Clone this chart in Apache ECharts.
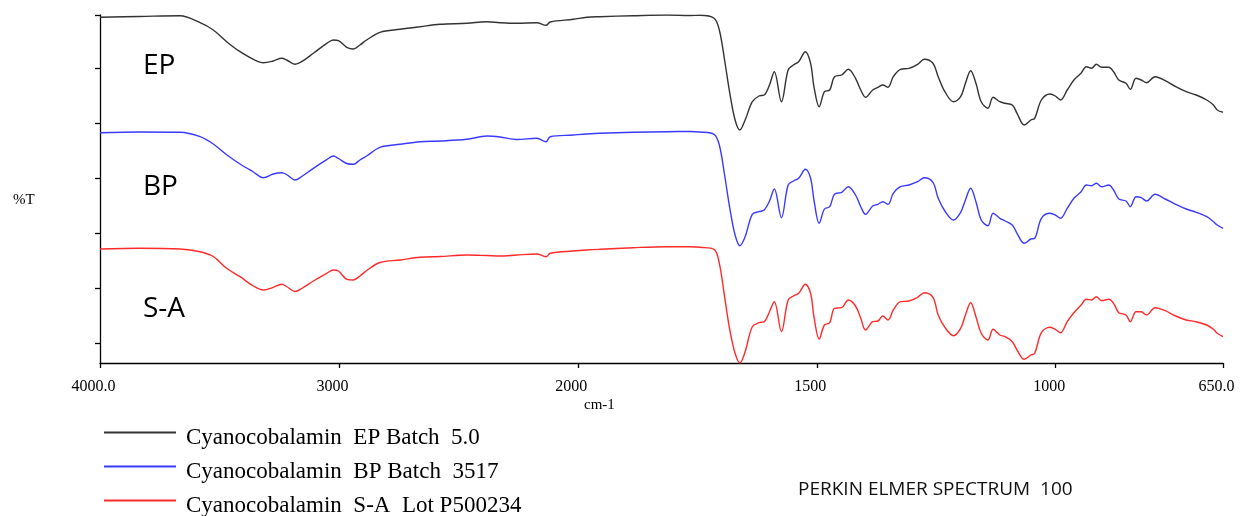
<!DOCTYPE html>
<html>
<head>
<meta charset="utf-8">
<script src="https://cdn.jsdelivr.net/npm/echarts@6/dist/echarts.min.js"></script>
<style>
  html, body { margin: 0; padding: 0; background: #fff; }
  #chart { width: 1249px; height: 516px; }
</style>
</head>
<body>
<div id="chart"></div>
<script>
// wavenumbers (cm-1) shared by the three spectra
const wavenumbers = [
  4000, 3833, 3665, 3581, 3526, 3470, 3414, 3358, 3316, 3275,
  3239, 3219, 3184, 3156, 3107, 3051, 3023, 3002, 2967, 2940,
  2912, 2884, 2828, 2744, 2660, 2577, 2465, 2381, 2326, 2256,
  2172, 2133, 2116, 2019, 1981, 1954, 1884, 1814, 1765, 1744,
  1715, 1704, 1693, 1682, 1671, 1661, 1650, 1635, 1621, 1610,
  1599, 1589, 1574, 1560, 1549, 1538, 1524, 1513, 1506, 1495,
  1484, 1473, 1463, 1448, 1434, 1419, 1408, 1398, 1383, 1372,
  1362, 1351, 1340, 1325, 1307, 1289, 1275, 1257, 1246, 1232,
  1214, 1199, 1189, 1178, 1167, 1156, 1142, 1131, 1117, 1106,
  1091, 1081, 1066, 1052, 1044, 1030, 1012, 1001, 990, 976,
  962, 947, 936, 925, 915, 904, 889, 879, 868, 853,
  844, 832, 821, 810, 792, 771, 749, 727, 706, 684,
  670, 662, 650
]

// %T (offset traces, arbitrary units)
const epValues = [
  345.7, 346.5, 347.3, 340.3, 333, 321.3, 311.3, 303.7, 300.3, 302,
  304.7, 303, 298.7, 301.3, 309.7, 319.7, 323, 322.3, 315.7, 314,
  318, 323, 330.7, 333.7, 336.3, 338.7, 339.7, 341.3, 340.3, 339.7,
  340.3, 337.7, 341, 343.7, 345.7, 346.3, 347.3, 348, 347.5, 347.7,
  344.7, 333, 303, 269.7, 243, 233, 243, 261.3, 267, 268,
  278, 291.3, 261.3, 293, 298, 301.3, 311.3, 299.7, 276.3, 256.3,
  271.3, 273, 286.3, 288, 293.7, 284.7, 273, 265.7, 273, 275.7,
  278, 275.7, 286.3, 293.7, 294.7, 298.7, 303.7, 299.7, 286.3, 271.3,
  261.3, 266.3, 279.7, 292.3, 279.7, 261.3, 254.7, 265.7, 261.3, 259.7,
  258, 249.7, 238, 243, 244.7, 263, 269, 267, 263, 273,
  283, 289.7, 296.3, 294.7, 298.7, 295.7, 295.7, 291.3, 283, 279.7,
  273.7, 284.7, 283, 280.3, 286.3, 282.3, 276.3, 271.3, 268, 263,
  258, 253, 250.7
]

const bpValues = [
  230.3, 231, 230.7, 226.3, 219, 208.3, 199, 191, 185.3, 189,
  190.3, 188.5, 183, 186.5, 194.7, 203.3, 207, 204.5, 199.5, 198.7,
  203, 207, 215.7, 218.7, 221.3, 222, 223.7, 227, 226, 223.5,
  224.7, 221.3, 226.3, 228, 229, 229.7, 230.7, 231.3, 231.5, 231,
  228.7, 218, 188, 154.7, 128, 117.3, 126.3, 148.7, 151.3, 153,
  162, 174, 145.3, 178, 182, 184.7, 193.7, 184.7, 163, 139.7,
  154, 156.3, 168.7, 170.7, 176.3, 168, 156.3, 148.7, 157, 158.7,
  161.3, 158.7, 169.7, 176.3, 178, 181.3, 185.3, 180.7, 164.7, 152,
  143, 150.7, 163, 174.7, 161.3, 143, 137.3, 149.7, 144.7, 142,
  138, 129.7, 119.7, 124, 124.7, 144.7, 149.7, 148, 144.7, 154.7,
  164.7, 171.3, 178, 177.3, 179.7, 176.3, 178, 173, 164, 162,
  156.3, 166.3, 165.3, 162, 168.7, 164, 158.7, 154, 150.7, 146.3,
  141.3, 138, 134.7
]

const saValues = [
  114, 114.7, 114, 111.3, 106.5, 94.7, 86.3, 77, 73, 75.7,
  78.7, 76.5, 71.5, 74.5, 82, 89.7, 93, 92, 83.7, 83,
  87, 92.5, 100.5, 103, 105.7, 106.5, 108, 107.5, 107, 108,
  109, 106.3, 109.7, 112, 113, 113.7, 115.3, 116.3, 116.3, 115.7,
  113.7, 99.7, 66.3, 33, 9.7, 0, 11.3, 36.3, 40.3, 41.3,
  51.3, 61.3, 31.3, 63, 67, 69.7, 78.7, 69.7, 46.3, 24,
  38, 40.3, 54.7, 55.3, 63, 57, 44.7, 33, 41.3, 42,
  47, 43, 53, 61.3, 62, 65.7, 70.3, 65.7, 48, 35.7,
  27.3, 34.7, 48, 60.3, 46.3, 29.7, 23, 33.7, 28, 26.3,
  21.3, 13, 3.7, 8, 9.7, 30.3, 35.7, 33.7, 30.3, 41.3,
  50.3, 58, 63.7, 63, 66.3, 62.3, 63.7, 59.7, 50.3, 48,
  41.3, 51.3, 51.3, 48, 55.3, 52.3, 47, 43, 41.3, 38,
  33.7, 29.7, 26.3
]

const seriesNames = [
  'Cyanocobalamin  EP Batch  5.0',
  'Cyanocobalamin  BP Batch  3517',
  'Cyanocobalamin  S-A  Lot P500234'
]
const seriesColors = ['#333333', '#3a3aff', '#ff2a2a']
const traceLabels = ['EP', 'BP', 'S-A']
const xTickLabels = { 4000: '4000.0', 3000: '3000', 2000: '2000', 1500: '1500', 1000: '1000', 650: '650.0' }
const yTickValues = [20, 75, 130, 185, 240, 295, 348]

// the spectrometer doubles the scale below 2000 cm-1
function toAxis(w) {
  return w >= 2000 ? 4000 - w : 2000 + 2 * (2000 - w)
}
function fromAxis(u) {
  return u <= 2000 ? 4000 - u : 2000 - (u - 2000) / 2
}

function pairs(values) {
  return wavenumbers.map((w, i) => [toAxis(w), values[i]])
}

const chart = echarts.init(document.getElementById('chart'))

const option = {
  backgroundColor: '#fff',
  animation: false,
  textStyle: { fontFamily: 'Liberation Serif' },
  grid: { left: 100, right: 26, top: 15, bottom: 153, containLabel: false, outerBoundsMode: 'none' },
  legend: {
    orient: 'vertical',
    left: 103,
    top: 426,
    height: 110,
    padding: 0,
    itemWidth: 72,
    itemHeight: 10,
    itemGap: 11,
    selectedMode: false,
    data: seriesNames,
    itemStyle: { color: 'transparent', borderWidth: 0, opacity: 0 },
    // rich text so the top padding pushes the words below the legend line
    formatter: name => '{t|' + name + '}',
    textStyle: {
      padding: [10, 0, 0, 5],
      rich: {
        t: { fontFamily: 'Liberation Serif', fontSize: 23, lineHeight: 24, color: '#000' }
      }
    }
  },
  xAxis: {
    type: 'value',
    min: 0,
    max: 4700,
    interval: 1000,
    splitLine: { show: false },
    axisLine: { lineStyle: { color: '#000', width: 1.3 } },
    axisTick: { length: 5, lineStyle: { color: '#000', width: 1.3 } },
    axisLabel: {
      margin: 16,
      color: '#000',
      fontFamily: 'Liberation Serif',
      fontSize: 16,
      padding: [0, 13, 0, 0],
      formatter: function (u) {
        const w = Math.round(fromAxis(u))
        return xTickLabels[w] || ''
      }
    }
  },
  yAxis: {
    type: 'value',
    min: 0,
    max: 348,
    splitLine: { show: false },
    axisLine: { show: true, lineStyle: { color: '#000', width: 1.3 } },
    axisTick: { show: true, length: 5, customValues: yTickValues, lineStyle: { color: '#000', width: 1.3 } },
    axisLabel: { show: false }
  },
  graphic: [
    { type: 'text', left: 13, top: 193, style: { text: '%T', font: '15px "Liberation Serif"', fill: '#000' } },
    { type: 'text', left: 584, top: 398, style: { text: 'cm-1', font: '15px "Liberation Serif"', fill: '#000' } },
    { type: 'text', left: 143, top: 52, style: { text: traceLabels[0], font: '28px "Open Sans"', fill: '#000' } },
    { type: 'text', left: 143, top: 173, style: { text: traceLabels[1], font: '28px "Open Sans"', fill: '#000' } },
    { type: 'text', left: 143, top: 295, style: { text: traceLabels[2], font: '28px "Open Sans"', fill: '#000' } },
    { type: 'text', left: 798, top: 480, style: { text: 'PERKIN ELMER SPECTRUM  100', font: '19px "Open Sans"', fill: '#111' } }
  ],
  series: [epValues, bpValues, saValues].map((vals, i) => ({
    name: seriesNames[i],
    type: 'line',
    data: pairs(vals),
    symbol: 'none',
    smooth: 0.35,
    color: seriesColors[i],
    lineStyle: { width: 1.4, color: seriesColors[i] }
  }))
}

chart.setOption(option)
</script>
</body>
</html>
